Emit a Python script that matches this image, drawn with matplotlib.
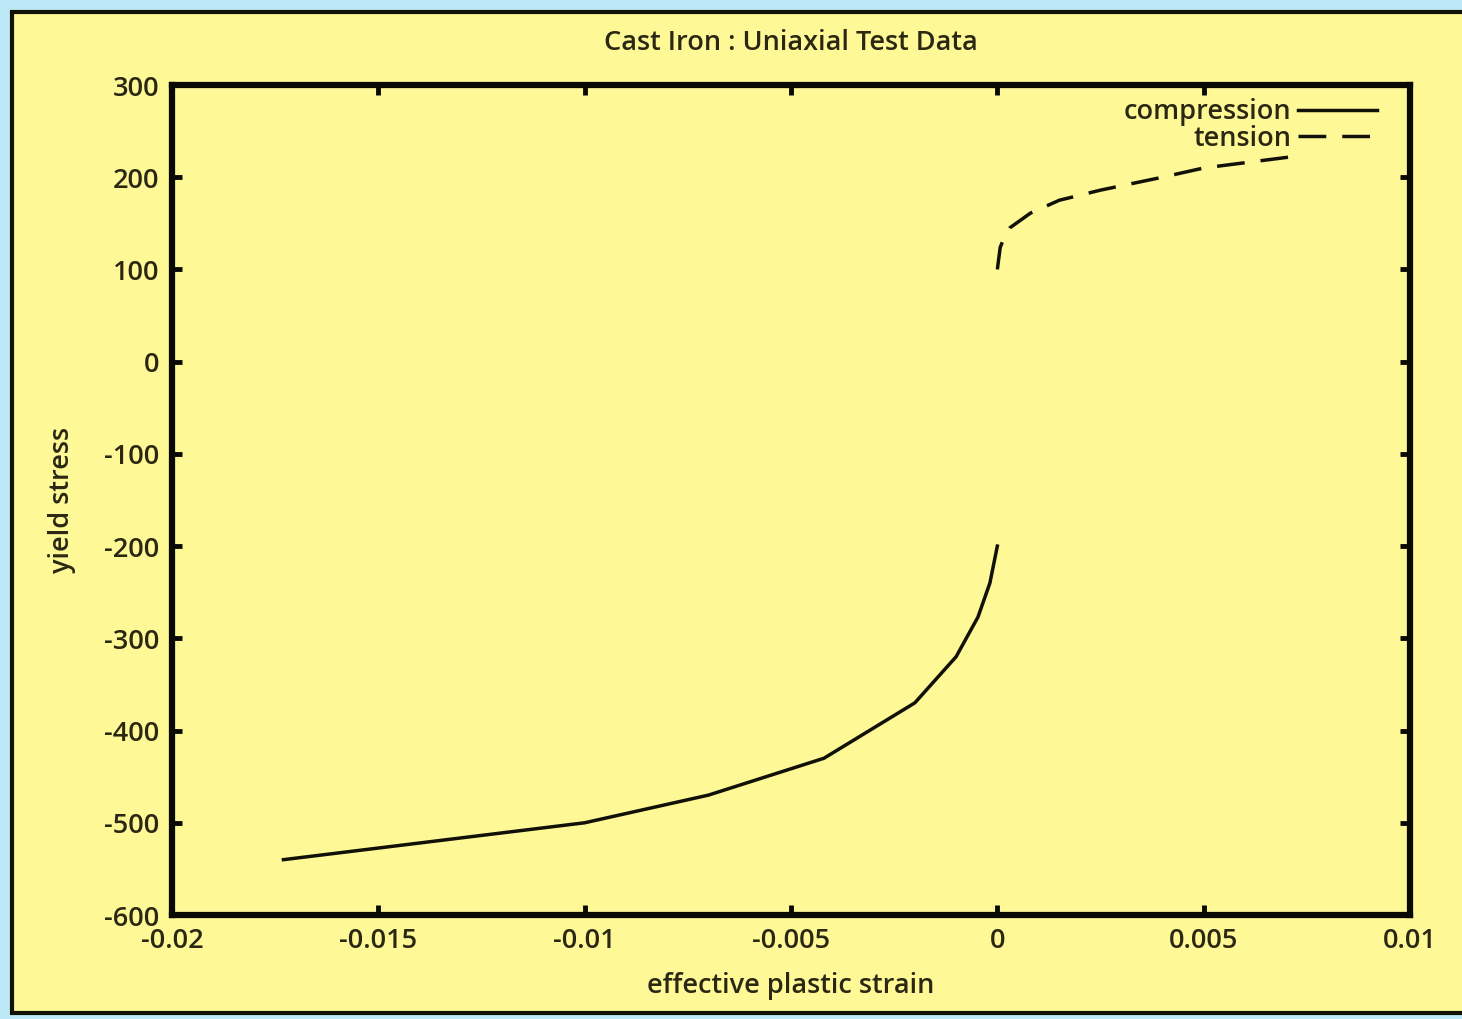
import matplotlib
matplotlib.use("Agg")
import matplotlib.pyplot as plt
from matplotlib.patches import Rectangle

# Uniaxial yield data for cast iron
comp_strain = [-0.0173, -0.0100, -0.0070, -0.0042, -0.0020, -0.0010, -0.00047, -0.00018, 0.0]
comp_stress = [-540, -500, -470, -430, -370, -320, -277, -240, -200]

tens_strain = [0.0, 0.00007, 0.00018, 0.0003, 0.0008, 0.0015, 0.0025, 0.0040, 0.0050, 0.0071]
tens_stress = [100, 124, 136, 145, 161, 175, 186, 200, 210, 222]

x_ticks = [-0.02, -0.015, -0.01, -0.005, 0, 0.005, 0.01]
x_labels = ["-0.02", "-0.015", "-0.01", "-0.005", "0", "0.005", "0.01"]
y_ticks = [300, 200, 100, 0, -100, -200, -300, -400, -500, -600]
y_labels = ["300", "200", "100", "0", "-100", "-200", "-300", "-400", "-500", "-600"]

ink = "#2a2812"
fs = 19.5
plt.rcParams["font.family"] = ["Open Sans", "DejaVu Sans"]
plt.rcParams["font.weight"] = "semibold"
plt.rcParams["axes.titleweight"] = "semibold"
plt.rcParams["axes.labelweight"] = "semibold"

fig = plt.figure(figsize=(14.62, 10.19), dpi=100, facecolor="#bde9f7")

# yellow panel behind the plot
panel = Rectangle((12 / 1462, 1 - 1013 / 1019), 1.0, (1013 - 12) / 1019,
                  transform=fig.transFigure, facecolor="#fff897",
                  edgecolor="#111108", linewidth=3, zorder=-10)
fig.add_artist(panel)

ax = fig.add_axes([172 / 1462, 1 - 915 / 1019, (1410 - 172) / 1462, (915 - 85) / 1019])
ax.set_facecolor("#fff897")
ax.set_zorder(1)

ax.plot(comp_strain, comp_stress, color="#111108", linewidth=2.5, label="compression")
ax.plot(tens_strain, tens_stress, color="#111108", linewidth=2.5,
        linestyle=(0, (8, 4.6)), label="tension")

ax.set_xlim(-0.02, 0.01)
ax.set_ylim(-600, 300)
ax.set_xticks(x_ticks)
ax.set_xticklabels(x_labels)
ax.set_yticks(y_ticks)
ax.set_yticklabels(y_labels)

for s in ax.spines.values():
    s.set_linewidth(4.5)
    s.set_color("#0a0a05")

ax.tick_params(direction="in", length=7, width=3.5, color="#0a0a05",
               top=True, right=True, labelsize=fs, labelcolor=ink, pad=9)

ax.set_title("Cast Iron : Uniaxial Test Data", fontsize=fs, color=ink, pad=25)
ax.set_xlabel("effective plastic strain", fontsize=fs, color=ink, labelpad=12)
ax.set_ylabel("yield stress", fontsize=fs, color=ink, labelpad=20)

leg = ax.legend(loc="upper right", bbox_to_anchor=(0.973, 0.984), frameon=False,
                markerfirst=False, fontsize=fs, handlelength=2.9, handletextpad=0.25,
                labelspacing=-0.05, borderaxespad=0.0, borderpad=0.0)
for t in leg.get_texts():
    t.set_color(ink)
    t.set_ha("right")

fig.savefig("out.png", dpi=100, facecolor=fig.get_facecolor())
